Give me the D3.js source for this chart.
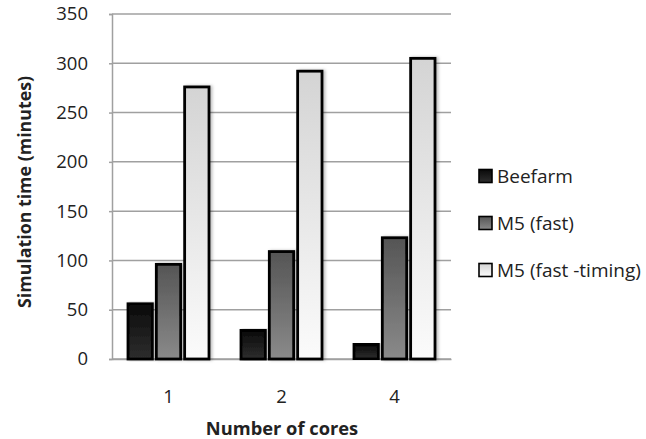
<!DOCTYPE html>
<html><head><meta charset="utf-8">
<script src="https://cdn.jsdelivr.net/npm/d3@7"></script>
<style>
html,body{margin:0;padding:0;background:#fff;}
svg{display:block;font-family:"Open Sans",sans-serif;}
</style></head>
<body>
<svg id="chart" width="646" height="439"></svg>
<script>
const categories = ["1", "2", "4"];
const seriesNames = ["Beefarm", "M5 (fast)", "M5 (fast -timing)"];
const beefarm = [56, 29, 15];
const m5Fast = [96, 109, 123];
const m5FastTiming = [276, 292, 305];
const yTicks = [0, 50, 100, 150, 200, 250, 300, 350];
const yTitle = "Simulation time (minutes)";
const xTitle = "Number of cores";

const seriesValues = [beefarm, m5Fast, m5FastTiming];
const gradStops = [
  ["#0a0a0a", "#2e2e2e"],
  ["#555555", "#8a8a8a"],
  ["#d4d4d4", "#fbfbfb"]
];

const svg = d3.select("#chart");
const defs = svg.append("defs");
gradStops.forEach((g, i) => {
  const lg = defs.append("linearGradient").attr("id", "g" + i)
    .attr("x1", 0).attr("y1", 0).attr("x2", 0).attr("y2", 1);
  lg.append("stop").attr("offset", "0%").attr("stop-color", g[0]);
  lg.append("stop").attr("offset", "100%").attr("stop-color", g[1]);
});
const f = defs.append("filter").attr("id", "shadow").attr("x", "-20%").attr("y", "-5%").attr("width", "150%").attr("height", "110%");
f.append("feDropShadow").attr("dx", 2).attr("dy", 0).attr("stdDeviation", 1.5).attr("flood-color", "#000").attr("flood-opacity", 0.25);

const mLeft = 112, mRight = 451, mTop = 14, mBottom = 359;
const y = d3.scaleLinear().domain([0, 350]).range([mBottom, mTop]);
const x0 = d3.scaleBand().domain(categories).range([mLeft, mRight]).padding(0);
const x1 = d3.scaleBand().domain(d3.range(seriesNames.length)).range([16, 97]).paddingInner(0.14);

// gridlines
svg.append("g").selectAll("line").data(yTicks).join("line")
  .attr("x1", mLeft).attr("x2", mRight)
  .attr("y1", d => y(d)).attr("y2", d => y(d))
  .attr("stroke", "#a0a0a0").attr("stroke-width", 1.5);

// y axis
const yAxis = svg.append("g").attr("transform", `translate(${mLeft},0)`)
  .call(d3.axisLeft(y).tickValues(yTicks).tickSize(3).tickPadding(21));
yAxis.select(".domain").attr("stroke", "#a0a0a0").attr("stroke-width", 1.5);
yAxis.selectAll(".tick line").attr("stroke", "#a0a0a0").attr("stroke-width", 1.5);
yAxis.selectAll("text").attr("font-size", 18.5).attr("fill", "#222").attr("font-family", "Open Sans");

// x axis
const xAxis = svg.append("g").attr("transform", `translate(0,${mBottom})`)
  .call(d3.axisBottom(x0).tickSize(0).tickPadding(31));
xAxis.select(".domain").attr("stroke", "#a0a0a0").attr("stroke-width", 1.5);
xAxis.selectAll("text").attr("font-size", 18.5).attr("fill", "#222").attr("font-family", "Open Sans");

// bars
const groups = svg.append("g").selectAll("g").data(categories).join("g")
  .attr("transform", d => `translate(${x0(d)},0)`);
groups.selectAll("rect").data((d, ci) => seriesValues.map((s, si) => ({ si, v: s[ci] })))
  .join("rect")
  .attr("x", d => x1(d.si))
  .attr("width", x1.bandwidth())
  .attr("y", d => y(d.v))
  .attr("height", d => mBottom - y(d.v))
  .attr("fill", d => `url(#g${d.si})`)
  .attr("stroke", "#000").attr("stroke-width", 2.8)
  .attr("filter", "url(#shadow)");

// titles
svg.append("text").attr("transform", `translate(24,192) rotate(-90)`)
  .attr("text-anchor", "middle").attr("dominant-baseline", "central")
  .attr("font-weight", "bold").attr("font-size", 17.8).attr("fill", "#222").text(yTitle);
svg.append("text").attr("x", 282).attr("y", 435)
  .attr("text-anchor", "middle").attr("font-weight", "bold").attr("font-size", 18.3).attr("fill", "#222").text(xTitle);

// legend
const legend = svg.append("g").attr("transform", "translate(478,176)");
const li = legend.selectAll("g").data(seriesNames).join("g")
  .attr("transform", (d, i) => `translate(0,${i * 47})`);
li.append("rect").attr("x", 1).attr("y", -6.5).attr("width", 13).attr("height", 13)
  .attr("fill", (d, i) => `url(#g${i})`).attr("stroke", "#000").attr("stroke-width", 1.6);
li.append("text").attr("x", 19).attr("y", 0).attr("dominant-baseline", "central")
  .attr("font-size", 19).attr("fill", "#222").text(d => d);
</script>
</body></html>
